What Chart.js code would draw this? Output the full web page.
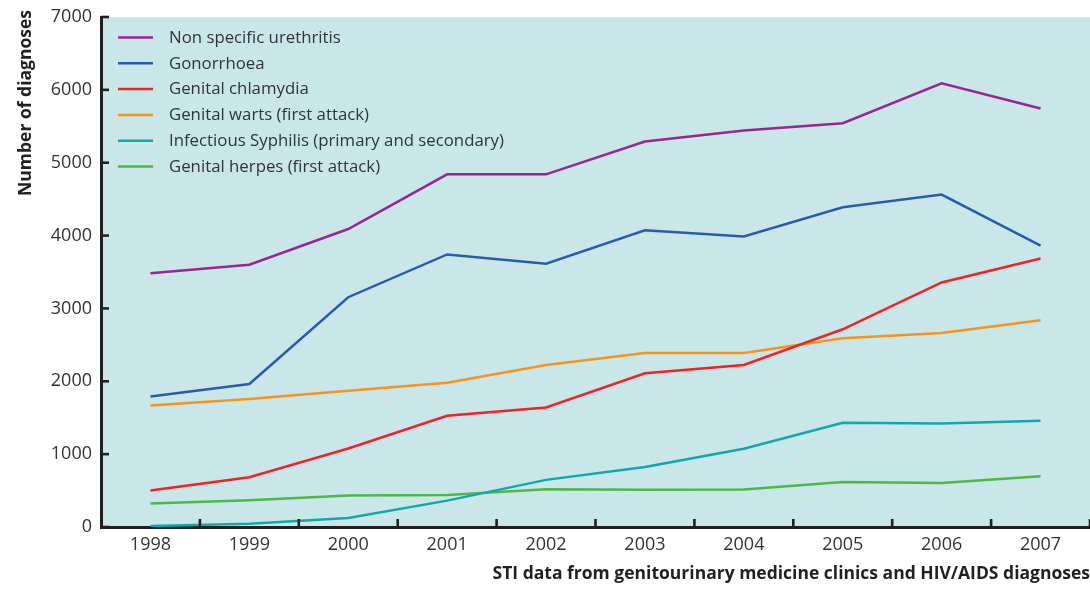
<!DOCTYPE html>
<html>
<head>
<meta charset="utf-8">
<script src="https://cdn.jsdelivr.net/npm/chart.js@4/dist/chart.umd.min.js"></script>
<style>
  html, body { margin: 0; padding: 0; background: #ffffff; overflow: hidden; }
  #wrap { width: 1090px; height: 589px; position: relative; }
</style>
</head>
<body>
<div id="wrap"><canvas id="chart" width="1090" height="589"></canvas></div>
<script>
// STI diagnoses by year
const years = ['1998', '1999', '2000', '2001', '2002', '2003', '2004', '2005', '2006', '2007'];
const yTicks = [0, 1000, 2000, 3000, 4000, 5000, 6000, 7000];

const nonSpecificUrethritis = [3484, 3600, 4090, 4840, 4840, 5291, 5443, 5543, 6089, 5745];
const gonorrhoea            = [1792, 1963, 3154, 3741, 3613, 4072, 3989, 4388, 4562, 3861];
const chlamydia             = [500, 684, 1077, 1527, 1641, 2109, 2224, 2714, 3356, 3686];
const genitalWarts          = [1669, 1756, 1871, 1981, 2224, 2389, 2389, 2590, 2664, 2838];
const syphilis              = [14, 46, 124, 362, 647, 825, 1073, 1431, 1421, 1458];
const genitalHerpes         = [321, 367, 431, 440, 518, 512, 516, 619, 603, 695];

const seriesLabels = [
  'Non specific urethritis',
  'Gonorrhoea',
  'Genital chlamydia',
  'Genital warts (first attack)',
  'Infectious Syphilis (primary and secondary)',
  'Genital herpes (first attack)'
];
const seriesValues = [nonSpecificUrethritis, gonorrhoea, chlamydia, genitalWarts, syphilis, genitalHerpes];
const seriesColors = ['#9b268f', '#2a5caa', '#ee2328', '#f7941e', '#12a8a8', '#4db848'];

const FONT = '"Open Sans", "Noto Sans", sans-serif';
const TEXT = '#333333';
const AXIS = '#231f20';

// Plot background, inward tick marks, in-plot legend and the vertical axis title
const decorations = {
  id: 'decorations',
  beforeDraw(chart) {
    const { ctx, chartArea: a } = chart;
    ctx.save();
    ctx.fillStyle = '#c9e7e9';
    ctx.fillRect(a.left, a.top, chart.width - a.left, a.bottom - a.top);
    ctx.restore();
  },
  afterDraw(chart) {
    const { ctx, chartArea: a } = chart;
    const xs = chart.scales.x, ys = chart.scales.y;
    ctx.save();
    ctx.strokeStyle = AXIS;
    ctx.lineWidth = 2.6;
    ctx.lineCap = 'butt';
    // value ticks, pointing into the plot
    yTicks.forEach(v => {
      const y = ys.getPixelForValue(v);
      ctx.beginPath();
      ctx.moveTo(a.left, y);
      ctx.lineTo(a.left + 8, y);
      ctx.stroke();
    });
    // category boundary ticks
    for (let i = 1; i <= years.length; i++) {
      const x = xs.getPixelForValue(i - 0.5);
      ctx.beginPath();
      ctx.moveTo(x, a.bottom);
      ctx.lineTo(x, a.bottom - 8);
      ctx.stroke();
    }
    // legend
    ctx.font = '16.8px ' + FONT;
    ctx.textBaseline = 'middle';
    ctx.textAlign = 'left';
    chart.data.datasets.forEach((ds, i) => {
      const y = a.top + 20.5 + i * 25.8;
      ctx.strokeStyle = ds.borderColor;
      ctx.lineWidth = 2.5;
      ctx.beginPath();
      ctx.moveTo(a.left + 17, y);
      ctx.lineTo(a.left + 52, y);
      ctx.stroke();
      ctx.fillStyle = TEXT;
      ctx.fillText(ds.label, a.left + 68, y + 0.5);
    });
    // vertical axis title
    ctx.translate(26, 10);
    ctx.rotate(-Math.PI / 2);
    ctx.font = 'bold 17.5px ' + FONT;
    ctx.fillStyle = AXIS;
    ctx.textAlign = 'right';
    ctx.textBaseline = 'middle';
    ctx.fillText('Number of diagnoses', 0, 0);
    ctx.restore();
  }
};

new Chart(document.getElementById('chart'), {
  type: 'line',
  data: {
    labels: years,
    datasets: seriesLabels.map((label, i) => ({
      label,
      data: seriesValues[i],
      borderColor: seriesColors[i],
      backgroundColor: seriesColors[i],
      borderWidth: 2.5,
      pointRadius: 0,
      tension: 0,
      fill: false
    }))
  },
  options: {
    responsive: false,
    animation: false,
    layout: { padding: { top: 17, right: 0, bottom: 0, left: 0 } },
    plugins: { legend: { display: false }, tooltip: { enabled: false } },
    scales: {
      x: {
        type: 'category',
        offset: true,
        grid: { display: true, drawOnChartArea: false, drawTicks: false, offset: true },
        border: { display: true, color: AXIS, width: 3 },
        ticks: { color: TEXT, font: { family: FONT, size: 18 }, padding: 7, maxRotation: 0, autoSkip: false },
        title: {
          display: true,
          text: 'STI data from genitourinary medicine clinics and HIV/AIDS diagnoses',
          align: 'end',
          color: AXIS,
          font: { family: FONT, size: 17.5, weight: 'bold' },
          padding: { top: 0, bottom: 4 }
        },
        afterFit(scale) { scale.height = 62; scale.paddingLeft = 0; scale.paddingRight = 0; }
      },
      y: {
        min: 0,
        max: 7000,
        afterBuildTicks(scale) { scale.ticks = yTicks.map(v => ({ value: v })); },
        grid: { display: true, drawOnChartArea: false, drawTicks: false },
        border: { display: true, color: AXIS, width: 3 },
        ticks: {
          color: TEXT,
          font: { family: FONT, size: 18 },
          padding: 9,
          callback: v => String(v)
        },
        afterFit(scale) { scale.width = 101; scale.paddingTop = 0; scale.paddingBottom = 0; }
      }
    }
  },
  plugins: [decorations]
});
</script>
</body>
</html>
